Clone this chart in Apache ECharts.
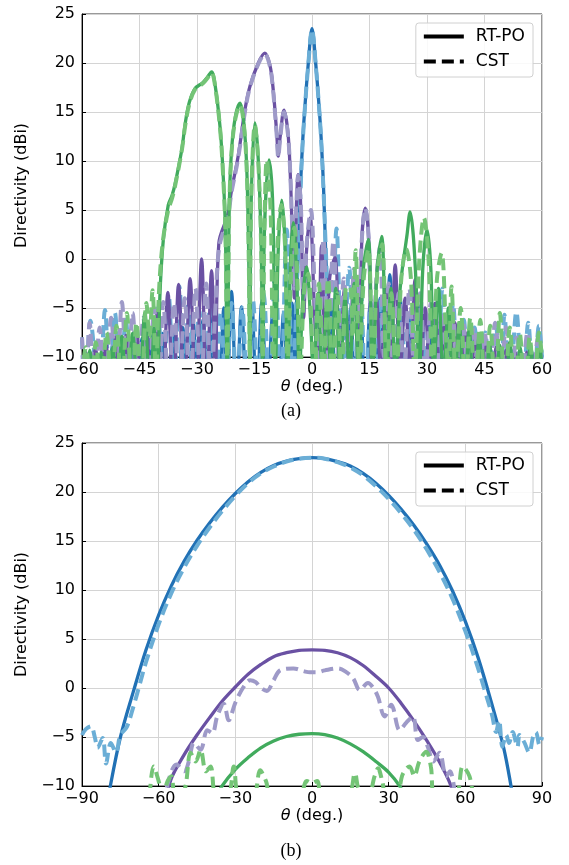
<!DOCTYPE html>
<html>
<head>
<meta charset="utf-8">
<script src="https://cdn.jsdelivr.net/npm/echarts@6/dist/echarts.min.js"></script>
<style>
    html, body { margin: 0; padding: 0; background: #fff; }
    #chart { width: 569px; height: 865px; }
</style>
</head>
<body>
<div id="chart"></div>
<script>
// (a) 三个波束方向图 —— [theta, dBi]，低于 -10 的零点会被坐标轴裁掉
let blueRtA = [[-60,-15],[-59,-9.6],[-58,-15],[-56.8,-9.3],[-55.6,-15],[-54.5,-9],[-53.3,-15],[-52,-8.8],[-50.8,-15],[-49.5,-8.6],[-48.2,-15],[-46.8,-8.3],[-45.6,-15],[-44.3,-8.1],[-43,-15],[-41.6,-7.8],[-40.3,-15],[-39,-7.6],[-37.7,-15],[-36.4,-7.2],[-35,-15],[-33.7,-7],[-32.4,-15],[-31,-6.5],[-29.7,-15],[-28.4,-6.2],[-27,-15],[-25.7,-5.6],[-24.3,-15],[-23,-5],[-22.2,-15],[-21,-3.3],[-19.7,-15],[-18.4,-4.9],[-17,-15],[-15.7,-4.9],[-14.4,-15],[-13.1,-4.4],[-11.7,-15],[-10.2,-5.4],[-8.8,-15],[-7.4,-5.5],[-6.2,-15],[-5.2,-4.5],[-4.5,-12],[-4,-4],[-3.5,1.5],[-3,7.4],[-2.5,11.5],[-2,14.7],[-1,19.8],[0,23.5],[1,19.8],[2,14.7],[2.5,11.5],[3,7.4],[3.5,1.5],[4,-4],[4.5,-12],[5.2,-5],[6.2,-15],[7.4,-6],[8.8,-15],[10.1,-5],[11.2,-15],[12.5,-2.8],[13.9,-15],[15.2,-4.5],[16.5,-15],[17.8,-4],[19,-15],[20.3,-1.6],[21.6,-15],[22.9,-3.5],[24.2,-15],[25.5,-5.5],[26.8,-15],[28.1,-4.8],[29.4,-15],[30.7,-6],[32,-15],[33.3,-6.5],[34.6,-15],[36,-7.5],[37.3,-15],[38.6,-8],[40,-15],[41.3,-8.5],[42.6,-15],[44,-9],[45.3,-15],[46.6,-9.2],[48,-15],[49.3,-9.5],[50.6,-15],[52,-9.3],[53.3,-15],[54.6,-9.6],[56,-15],[57.3,-9.4],[58.6,-15],[60,-9.8]]
let blueCstA = [[-60,-8],[-59.2,-14],[-57.8,-6.3],[-55.6,-14],[-54,-5.2],[-52.8,-14],[-51.4,-5.5],[-50,-14],[-48.6,-6],[-47.2,-14],[-45.8,-7],[-44.4,-14],[-43,-6.5],[-41.6,-14],[-40.2,-5],[-38.8,-14],[-37.4,-3.6],[-36,-14],[-34.6,-2.8],[-33.3,-14],[-32.2,-4],[-30.8,-14],[-29.4,-5.3],[-28,-14],[-26.6,-4.8],[-25.2,-14],[-23.8,-5.5],[-22.4,-14],[-21,-4.5],[-19.6,-14],[-18.2,-5],[-16.8,-14],[-15.4,-4.2],[-14,-14],[-12.6,-3.5],[-11.1,-14],[-9.6,-1],[-8.1,-14],[-6.6,3],[-4.9,-14],[-4.4,-8],[-3.9,-2],[-3.5,2],[-3,7],[-2.5,11.3],[-2,14.6],[-1,19.7],[0,23.4],[1,19.7],[2,14.6],[2.5,11.3],[3,7],[3.5,2],[3.9,-2],[4.4,-8],[4.9,-14],[6.4,3.1],[8,-14],[9.7,-0.9],[11.2,-14],[12.7,-3.2],[14,-14],[15.3,-4.5],[16.6,-14],[18,-3.8],[19.3,-14],[20.6,-4.6],[22,-14],[23.3,-5],[24.6,-14],[26,-5.5],[27.3,-14],[28.6,-5.8],[30,-14],[31.3,-5],[32.6,-14],[34,-3],[35.4,-14],[36.8,-4.6],[38.2,-14],[39.6,-6.2],[41,-14],[42.4,-7],[43.8,-14],[45.2,-7.5],[46.6,-14],[48,-6.8],[49.2,-14],[50.2,-5.7],[51.6,-14],[53.3,-5.4],[55,-14],[56.4,-6.5],[57.8,-14],[59.2,-6.8],[60,-10]]
let purpleRtA = [[-60,-15],[-59,-9.5],[-57.8,-15],[-56.5,-9],[-55.2,-15],[-53.8,-8.5],[-52.5,-15],[-51.2,-8],[-49.8,-15],[-48.5,-7.8],[-47.2,-15],[-45.8,-7],[-44.5,-15],[-43.2,-6.5],[-41.8,-15],[-40.4,-5.5],[-39,-15],[-37.6,-3.4],[-36.2,-15],[-34.8,-2.6],[-33.3,-15],[-31.8,-2],[-30.3,-15],[-28.8,0],[-27.5,-15],[-26.2,-1.2],[-25.2,-12],[-24.3,1.6],[-22,4.5],[-21,7],[-19.3,10.4],[-17.5,15.2],[-16.2,17.6],[-14,20],[-12.3,21],[-11,19.8],[-10.2,17.6],[-9.2,12.8],[-8.8,10.5],[-8.3,12.5],[-7.3,15.2],[-6.3,13],[-5.7,9],[-5.1,2],[-4.6,-4],[-4.1,5],[-3.6,8.6],[-2.9,5],[-2.2,-6],[-1.4,1],[-0.5,4.2],[0.6,-5],[1.5,-12],[2.5,1.4],[3.6,-12],[4.6,-2],[6,0.2],[7.2,-12],[8.5,-3],[9.8,-12],[11,-2],[12.2,-12],[13,2],[13.9,5.2],[14.8,2],[15.7,-12],[16.8,-4],[18,-12],[19.3,-3],[20.5,-12],[21.7,-0.6],[23,-12],[24.3,-4],[25.6,-12],[26.9,-2.1],[28.2,-12],[29.5,-5],[30.8,-12],[32.1,-4.5],[33.4,-12],[34.7,-6],[36,-12],[37.3,-6.5],[38.6,-12],[40,-7.5],[41.3,-12],[42.6,-8],[44,-15],[45.3,-8.5],[46.6,-15],[48,-9],[49.3,-15],[50.6,-9.3],[52,-15],[53.3,-9.6],[54.6,-15],[56,-9.5],[57.3,-15],[58.6,-9.8],[60,-15]]
let purpleCstA = [[-60,-8],[-59,-14],[-58,-6.5],[-56.8,-14],[-55.4,-7],[-54,-14],[-52.4,-6],[-51,-14],[-49.6,-4.4],[-48.2,-14],[-46.8,-5.5],[-45.4,-14],[-44,-6],[-42.6,-14],[-41.2,-5],[-40,-14],[-38.8,-4.4],[-37.4,-14],[-36,-4.5],[-34.6,-14],[-33.2,-4],[-31.8,-14],[-30.4,-3],[-29,-14],[-27.6,-2.5],[-26.4,-14],[-25.2,-5],[-24.2,1.2],[-22,4.2],[-21,6.8],[-19.3,10.2],[-17.5,15],[-16.2,17.5],[-14,19.9],[-12.3,20.9],[-11,19.7],[-10.2,17.4],[-9.2,12.6],[-8.8,10.4],[-8.3,12.3],[-7.3,15],[-6.3,12.8],[-5.7,9],[-5.1,2.5],[-4.6,-3],[-4.1,5.2],[-3.6,8.5],[-2.9,5.5],[-2.2,-4],[-1.3,2],[-0.3,5],[0.8,-4],[1.8,-10],[3,2],[4.2,-10],[5.6,1.8],[7,-10],[8.3,-2],[9.7,-12],[11,-1],[12.2,-6],[13,2],[13.9,5.2],[14.8,2],[15.8,-10],[16.8,-2],[17.7,1.2],[18.8,-10],[20,-2.5],[21.3,-12],[22.6,-3.5],[24,-12],[25.4,-3],[26.8,-12],[28.2,-3.5],[29.6,-12],[31,-4.5],[32.4,-12],[33.8,-5.5],[35.2,-12],[36.6,-5.2],[38,-12],[39.4,-6.5],[40.8,-12],[42.2,-7],[43.6,-12],[45,-7.5],[46.4,-12],[47.8,-6.5],[49.2,-12],[50.6,-7],[52,-12],[53.4,-8],[54.8,-12],[56.2,-7.5],[57.6,-12],[59,-8],[60,-11]]
let greenRtA = [[-60,-15],[-58,-9.3],[-56.5,-15],[-55,-9.5],[-53.5,-15],[-52,-9],[-50.8,-15],[-49.6,-7.9],[-48.2,-15],[-46.8,-7.6],[-45.2,-15],[-43.6,-5.5],[-42.2,-15],[-41.2,-7],[-40.4,-15],[-39.7,-4],[-38.8,1.9],[-37.5,5.5],[-36.5,6.5],[-35.7,7.7],[-34,11.1],[-33,14],[-32,16],[-30.5,17.4],[-28.5,18],[-27.2,18.6],[-26.2,19.1],[-25.3,17.8],[-24,13.5],[-23.2,8.8],[-22.6,3],[-22.1,-12],[-21.6,5],[-21,11],[-20,14.5],[-18.8,15.9],[-17.8,14],[-17,9],[-16.5,0],[-16.2,-12],[-15.9,5],[-14.9,13.9],[-14,10],[-13.2,0],[-12.9,-12],[-12.4,3],[-11.2,10.1],[-10.2,5],[-9.6,-12],[-8.8,1],[-7.9,6],[-7,1],[-6.4,-12],[-5.6,0],[-4.9,3.7],[-4,-2],[-3.3,-12],[-2.4,-4],[-1.4,-0.8],[-0.4,-6],[0.4,-12],[1.6,-3.5],[2.7,-12],[3.9,-4.5],[5,-12],[6.2,-3],[7.4,-12],[8.6,-4],[9.8,-12],[11,-2.5],[12.2,-12],[13.4,-1],[14.7,2],[15.8,-12],[17,-1],[18.2,2.3],[19.4,-12],[20.6,-3],[21.8,-12],[23,-3],[24.8,2.5],[25.6,4.8],[26.4,2.5],[27.2,-3],[28,-12],[28.9,-1],[30,3],[31,-1],[31.8,-12],[33,-3],[34.3,-12],[35.6,-5],[37,-15],[38.4,-6.5],[39.7,-15],[41,-7.2],[42.3,-15],[43.6,-8],[45,-15],[46.3,-8.6],[47.6,-15],[49,-8.8],[50.3,-15],[51.6,-8.5],[53,-15],[54.3,-9],[55.6,-15],[57,-8.7],[58.3,-15],[59.6,-9],[60,-12]]
let greenCstA = [[-60,-12],[-59,-9],[-57.6,-14],[-56.4,-8.5],[-55,-14],[-53.6,-7.5],[-52.2,-14],[-51,-6.8],[-49.6,-14],[-48.3,-5.5],[-47,-14],[-45.8,-6.5],[-44.5,-14],[-43.2,-4.5],[-42.4,-8],[-41.6,-3.2],[-40.7,-12],[-40,-4],[-39,1.5],[-37.5,5],[-36.5,6.2],[-35.7,7.5],[-34,11],[-33,13.8],[-32,15.8],[-30.5,17.3],[-28.5,17.9],[-27.2,18.5],[-26.2,19],[-25.3,17.7],[-24,13.4],[-23.2,8.6],[-22.6,2.8],[-22.1,-11],[-21.6,4.8],[-21,10.8],[-20,14.3],[-18.8,15.7],[-17.8,13.8],[-17,8.8],[-16.5,0],[-16.2,-11],[-15.9,5],[-14.9,13.7],[-14,9.8],[-13.2,0],[-12.9,-11],[-12.4,3],[-11.8,10.1],[-10.8,5],[-10.1,-11],[-9,1.5],[-8,5.5],[-7,1],[-6.4,-11],[-5.4,-1],[-4.6,3.2],[-3.8,-2],[-3.1,-12],[-2,-3],[-1,-1.5],[0,-8],[0.6,-13],[1.8,-2.5],[3,-12],[4.2,-2],[5.4,-13],[6.6,-3.5],[7.8,-13],[8.8,-3],[9.9,-2.8],[10.6,-8],[11.4,0.9],[12.4,-12],[13.5,-2],[14.7,1],[15.9,-12],[17,-1.5],[18.3,1.5],[19.5,-12],[20.7,-3.5],[22,-12],[23.3,-2],[24.6,1],[25.8,-2],[26.8,-12],[28,0],[29.2,4.2],[30.4,0],[31.4,-12],[32.6,-2],[33.8,0.6],[35,-8],[35.6,-12],[36.4,-2.8],[37.5,-12],[38.8,-5],[40,-14],[41.3,-6],[42.6,-14],[43.9,-6.2],[45.2,-14],[46.5,-6.8],[47.8,-14],[49,-5.5],[50.3,-14],[51.6,-7],[52.9,-14],[54.2,-7.6],[55.5,-14],[56.8,-8],[58,-14],[59.2,-7.5],[60,-10]]

// (b) 宽波束方向图
let blueRtB = [[-80,-12],[-78.9,-10],[-75,-5.05],[-70,-0.45],[-65,3.85],[-60,7.45],[-55,10.45],[-50,12.95],[-45,15.05],[-40,16.85],[-35,18.45],[-30,19.85],[-25,21.05],[-20,22],[-15,22.7],[-10,23.15],[-5,23.4],[0,23.5],[5,23.4],[10,23.1],[15,22.65],[20,21.9],[25,20.9],[30,19.65],[35,18.2],[40,16.55],[45,14.65],[50,12.5],[55,9.9],[60,6.8],[65,3.1],[70,-1.3],[75,-6.1],[77.8,-9.9],[79,-12]]
let blueCstB = [[-90,-4.8],[-88.5,-4.2],[-86.5,-3.9],[-85,-5],[-83.9,-6.1],[-81.9,-5.1],[-80.6,-7.7],[-78.7,-5.6],[-76.7,-6.6],[-75,-4.8],[-72.5,-4],[-70,-2],[-67.7,0.1],[-65,2.6],[-60,6.5],[-55,9.7],[-50,12.3],[-45,14.5],[-40,16.4],[-35,18.1],[-30,19.6],[-25,20.9],[-20,21.9],[-15,22.6],[-10,23.1],[-5,23.4],[0,23.5],[5,23.4],[10,23.05],[15,22.5],[20,21.7],[25,20.6],[30,19.3],[35,17.8],[40,16.1],[45,14.1],[50,11.8],[55,9.1],[60,5.8],[65,2],[68,-0.6],[70.5,-2.8],[72,-4.5],[73.2,-3.3],[74.5,-6],[76,-4.8],[77.1,-5.6],[78.5,-4.5],[80.4,-6],[81.2,-4.8],[83,-5.5],[85,-6.6],[86.5,-5],[87.6,-4.5],[89,-5.8],[90,-5]]
let purpleRtB = [[-57,-12],[-55.3,-9.4],[-50,-6.8],[-45,-4.8],[-40,-3],[-35,-1.3],[-30,0.1],[-25,1.4],[-20,2.4],[-15,3.2],[-10,3.6],[-5,3.85],[0,3.9],[5,3.85],[10,3.6],[15,3.1],[20,2.3],[25,1.2],[30,0],[35,-1.6],[40,-3.4],[45,-5.4],[50,-7.6],[54.4,-10],[56,-12]]
let purpleCstB = [[-57.5,-12],[-56.6,-9.9],[-53,-7.8],[-50,-8.5],[-48.2,-7.5],[-46.2,-5.6],[-43.6,-6.3],[-41,-4.3],[-39,-4.6],[-37.1,-2.9],[-34.5,-1.6],[-32.6,-3.3],[-30,-1.5],[-26.8,0.1],[-24.2,0.8],[-22,0.6],[-20.3,0.1],[-17.7,-0.3],[-15,0.8],[-12.5,1.8],[-7.3,2],[-3,1.7],[-0.8,1.6],[1.8,1.6],[5,1.8],[10.2,2],[13,1.7],[16.1,1],[18.7,-0.2],[21.9,0.5],[24,0],[25.8,-0.9],[28.4,-2.9],[31,-1.7],[34.3,-4.3],[37,-3.5],[39.5,-2.9],[41.4,-5.3],[43.5,-5],[45.3,-6],[47.5,-7.5],[49.9,-6.6],[52.5,-9],[54,-8.5],[56,-11]]
let greenRtB = [[-37,-11],[-35.2,-10],[-30,-8.3],[-25,-7.1],[-20,-6.1],[-15,-5.4],[-10,-4.95],[-5,-4.72],[0,-4.65],[5,-4.75],[10,-5.1],[15,-5.7],[20,-6.5],[25,-7.5],[30,-8.6],[34.3,-10],[36,-11]]
let greenCstB = [[-63.5,-11],[-62,-8],[-60,-9.5],[-58.5,-11],[-56.5,-9.5],[-55,-9],[-53.5,-11],[-50,-10.5],[-47.5,-6.6],[-45.5,-7.5],[-43.6,-6.3],[-41.5,-8.5],[-39.7,-8],[-37.5,-11],[-33,-11],[-30.6,-8],[-28.5,-11],[-23,-11],[-20.3,-8.4],[-18,-9.5],[-16,-11],[-5,-11],[-2,-9.5],[0,-9.7],[2,-9.5],[4,-11],[14,-11],[16.8,-8.7],[18.5,-10.5],[22,-11],[24.5,-9],[25.8,-8.2],[27.5,-9.5],[29,-11],[33,-11],[35.5,-8.8],[38.2,-8],[40,-9],[42,-7.5],[44.7,-6.5],[46.5,-8],[48,-11],[56,-11],[59,-8],[61.6,-9],[63,-11]]

let yTicks = [-10, 25, 5]
let xTicksA = [-60, 60, 15]
let xTicksB = [-90, 90, 30]

const FONT = 'DejaVu Sans'
const DASH = [12, 6]
const minus = v => String(v).replace('-', '\u2212')

function line(data, color, dashed, idx) {
    return {
        type: 'line',
        data: data,
        xAxisIndex: idx,
        yAxisIndex: idx,
        symbol: 'none',
        smooth: 0.35,
        clip: true,
        silent: true,
        lineStyle: {
            color: color,
            width: dashed ? 4 : 3.3,
            type: dashed ? DASH : 'solid'
        }
    }
}

function xAxis(idx, t) {
    return {
        type: 'value', gridIndex: idx, min: t[0], max: t[1], interval: t[2],
        name: '{i|θ} (deg.)', nameLocation: 'middle', nameGap: 19,
        nameTextStyle: {fontFamily: FONT, fontSize: 16, color: '#000', rich: {i: {fontStyle: 'italic', fontFamily: FONT, fontSize: 16, color: '#000'}}},
        axisLine: {onZero: false, lineStyle: {color: '#000', width: 1}},
        axisTick: {inside: true, length: 4, lineStyle: {color: '#000'}},
        axisLabel: {fontFamily: FONT, fontSize: 16, color: '#000', margin: 5, formatter: minus},
        splitLine: {show: true, lineStyle: {color: '#d4d4d4', width: 1}}
    }
}

function yAxis(idx) {
    return {
        type: 'value', gridIndex: idx, min: yTicks[0], max: yTicks[1], interval: yTicks[2],
        name: 'Directivity (dBi)', nameLocation: 'middle', nameGap: 48,
        nameTextStyle: {fontFamily: FONT, fontSize: 16, color: '#000'},
        axisLine: {show: true, onZero: false, lineStyle: {color: '#000', width: 1}},
        axisTick: {show: true, inside: true, length: 4, lineStyle: {color: '#000'}},
        axisLabel: {fontFamily: FONT, fontSize: 16, color: '#000', margin: 7, formatter: minus},
        splitLine: {show: true, lineStyle: {color: '#d4d4d4', width: 1}}
    }
}

function legend(top) {
    return {
        data: ['RT-PO', 'CST'], orient: 'vertical', right: 36, top: top,
        itemWidth: 40, itemHeight: 18, itemGap: 8, padding: [5, 8, 7, 6],
        backgroundColor: 'rgba(255,255,255,0.85)', borderColor: '#d0d0d0', borderWidth: 1, borderRadius: 3,
        selectedMode: false,
        itemStyle: {opacity: 0},
        lineStyle: {width: 4},
        textStyle: {fontFamily: FONT, fontSize: 17, color: '#000', padding: [0, 0, 0, 7]}
    }
}

let myChart = echarts.init(document.getElementById('chart'), null, {renderer: 'canvas'})
let option = {
    animation: false,
    backgroundColor: '#fff',
    title: [
        {text: '(a)', left: 286, top: 397, textAlign: 'center', textStyle: {fontFamily: 'Liberation Serif', fontSize: 18, fontWeight: 'normal', color: '#000'}},
        {text: '(b)', left: 286, top: 837, textAlign: 'center', textStyle: {fontFamily: 'Liberation Serif', fontSize: 18, fontWeight: 'normal', color: '#000'}}
    ],
    grid: [
        {left: 82, right: 27, top: 14, height: 343, show: true, borderColor: '#333', borderWidth: 1, backgroundColor: 'transparent'},
        {left: 82, right: 27, top: 443, height: 343, show: true, borderColor: '#333', borderWidth: 1, backgroundColor: 'transparent'}
    ],
    xAxis: [xAxis(0, xTicksA), xAxis(1, xTicksB)],
    yAxis: [yAxis(0), yAxis(1)],
    legend: [legend(23), legend(452)],
    series: [
        line(blueRtA, '#2171b5', false, 0),
        line(blueCstA, '#6baed6', true, 0),
        line(purpleRtA, '#6a51a3', false, 0),
        line(purpleCstA, '#9e9ac8', true, 0),
        line(greenRtA, '#41ab5d', false, 0),
        line(greenCstA, '#74c476', true, 0),
        line(blueRtB, '#2171b5', false, 1),
        line(blueCstB, '#6baed6', true, 1),
        line(purpleRtB, '#6a51a3', false, 1),
        line(purpleCstB, '#9e9ac8', true, 1),
        line(greenRtB, '#41ab5d', false, 1),
        line(greenCstB, '#74c476', true, 1),
        // 图例用的黑色样式线
        {name: 'RT-PO', type: 'line', data: [], symbol: 'none', lineStyle: {color: '#000', width: 4}, itemStyle: {color: '#000', opacity: 0}},
        {name: 'CST', type: 'line', data: [], symbol: 'none', lineStyle: {color: '#000', width: 4, type: DASH}, itemStyle: {color: '#000', opacity: 0}}
    ]
}
myChart.setOption(option)
</script>
</body>
</html>
